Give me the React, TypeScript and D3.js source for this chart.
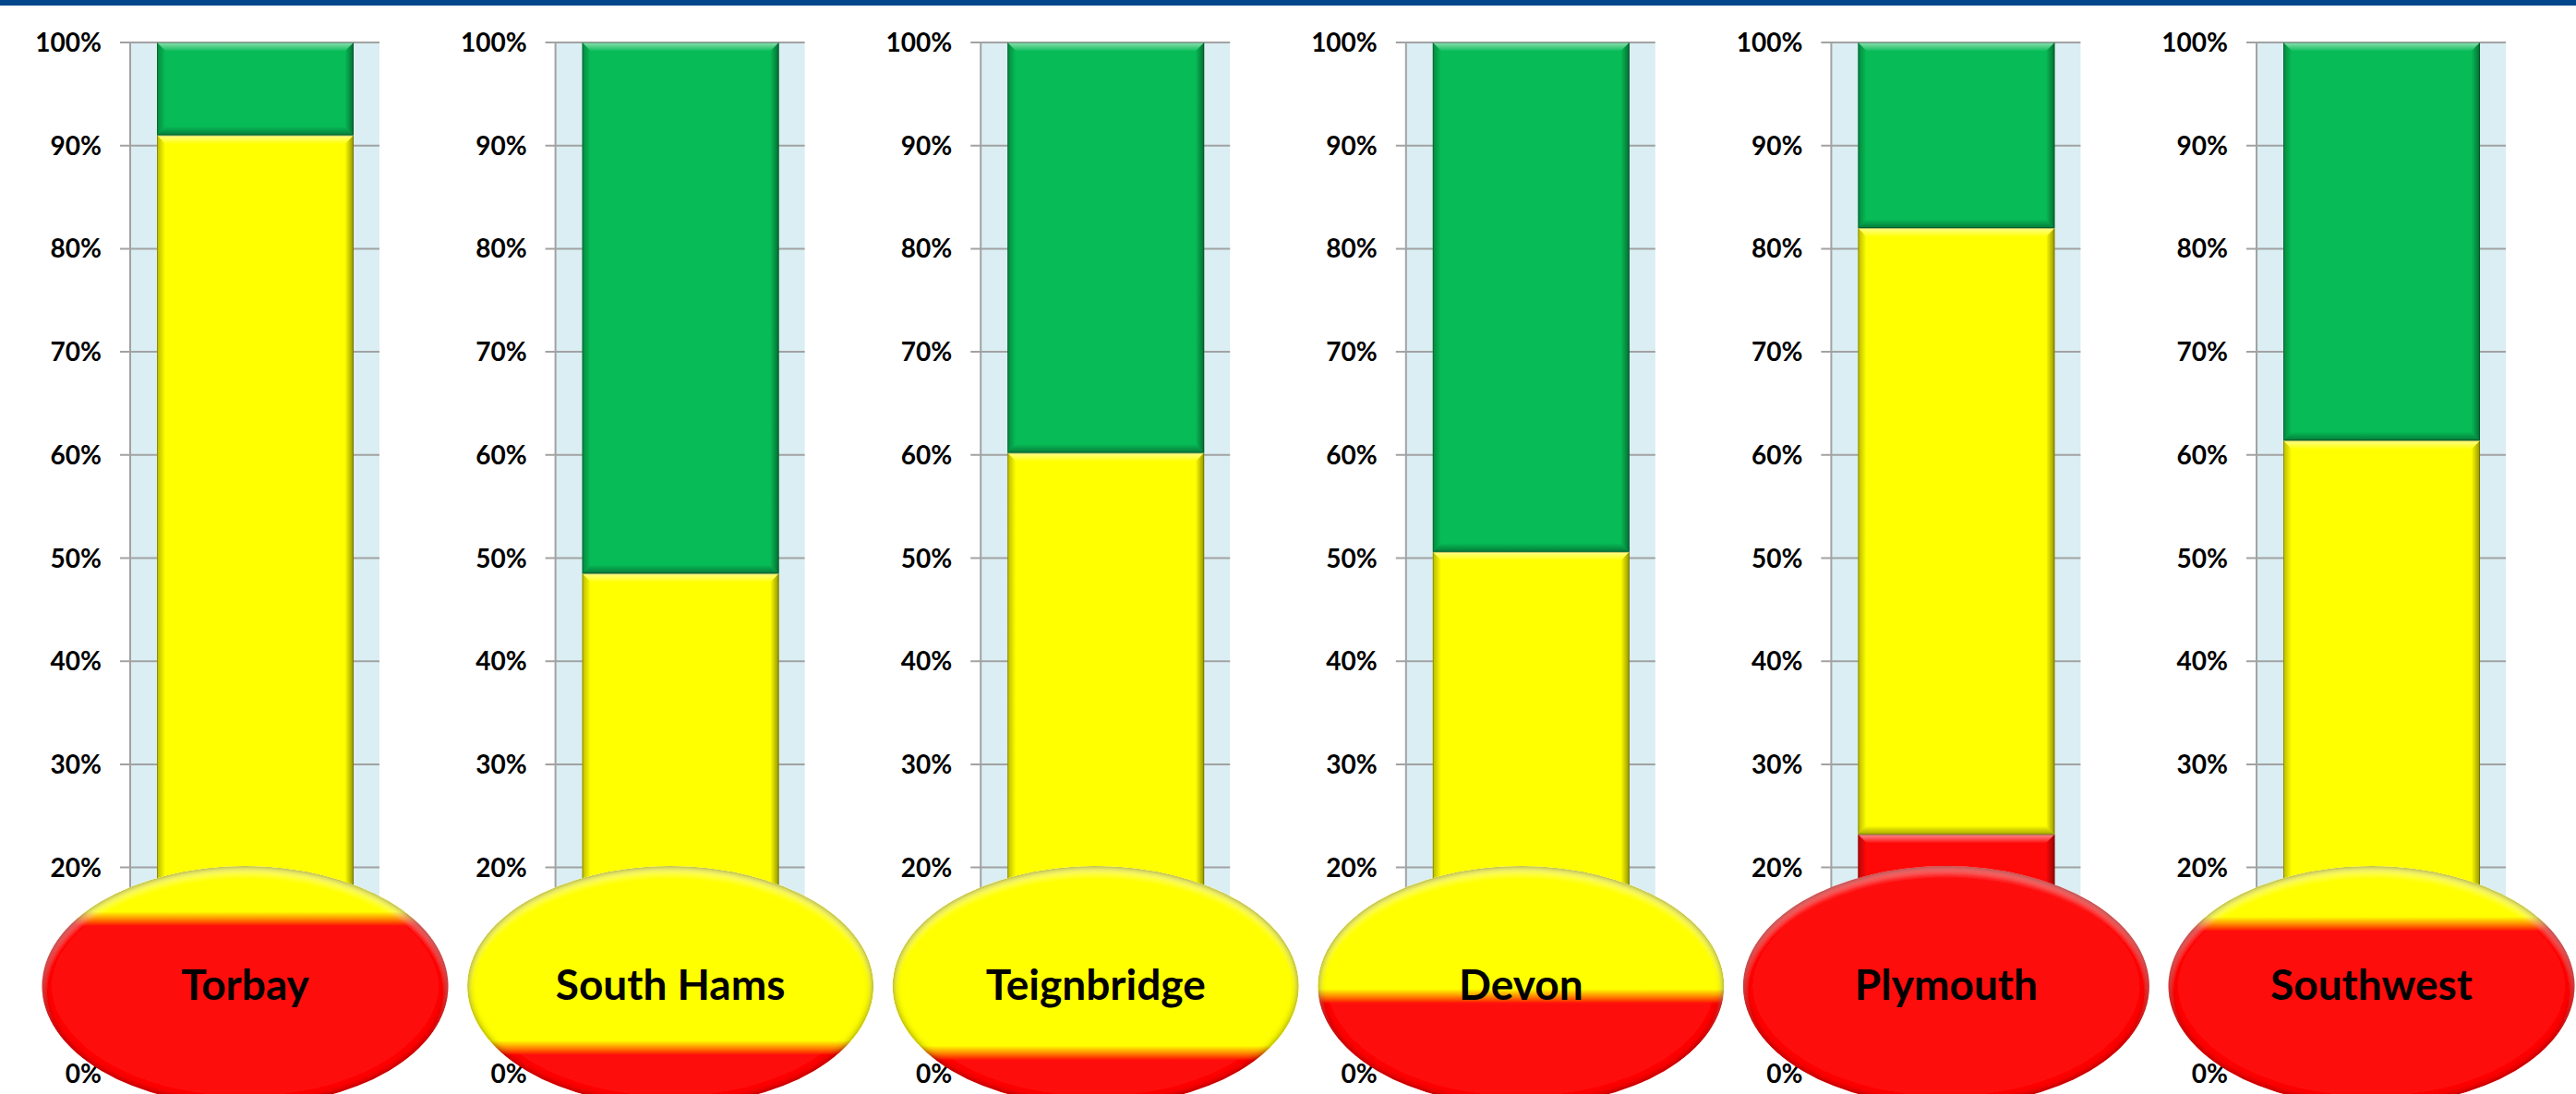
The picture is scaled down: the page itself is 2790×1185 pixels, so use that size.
import * as React from 'react';
import { useRef, useEffect } from 'react';
import * as d3 from 'd3';

// share of respondents per area (red / yellow / green), bottom to top
const areas = ['Torbay', 'South Hams', 'Teignbridge', 'Devon', 'Plymouth', 'Southwest'];
const redShare = [0.15, 0.025, 0.02, 0.075, 0.232, 0.145];
const yellowShare = [0.76, 0.46, 0.582, 0.431, 0.588, 0.469];
const greenShare = [0.09, 0.515, 0.398, 0.494, 0.18, 0.386];
const tickValues = [0, 0.1, 0.2, 0.3, 0.4, 0.5, 0.6, 0.7, 0.8, 0.9, 1];
const hiddenTicks = [0.1]; // sits under the bulb

const W = 2790;
const H = 1185;

const RED = '#fe0808';
const YELLOW = '#ffff00';
const GREEN = '#07bb56';

export default function App() {
  const svgRef = useRef<SVGSVGElement | null>(null);

  useEffect(() => {
    document.body.style.margin = '0';
    if (!svgRef.current) return;
    const svg = d3.select(svgRef.current);
    svg.selectAll('*').remove();

    const y = d3.scaleLinear().domain([0, 1]).range([1163, 46]);
    const panel = d3.scaleBand<string>().domain(areas).range([0, 2763.6]);

    // panel-local layout
    const tickStart = 130;
    const plotLeft = 141;
    const plotRight = 411;
    const barLeft = 170;
    const barRight = 383;
    const labelRight = 110;
    const bulbCx = 265.5;
    const bulbCy = 1068;
    const bulbRx = 220;
    const bulbRy = 130;

    const defs = svg.append('defs');

    const addGrad = (id: string, x2: number, y2: number, stops: [number, string, number][]) => {
      const gr = defs.append('linearGradient').attr('id', id)
        .attr('x1', 0).attr('y1', 0).attr('x2', x2).attr('y2', y2);
      stops.forEach(([o, c, a]) => gr.append('stop').attr('offset', o).attr('stop-color', c).attr('stop-opacity', a));
    };
    addGrad('bevTop', 0, 1, [[0, '#fff', 0.55], [1, '#fff', 0.05]]);
    addGrad('bevBot', 0, 1, [[0, '#000', 0.02], [1, '#000', 0.35]]);
    addGrad('bevLeft', 1, 0, [[0, '#000', 0.28], [1, '#000', 0]]);
    addGrad('bevRight', 1, 0, [[0, '#000', 0.02], [1, '#000', 0.42]]);

    // bulb bevel: dark rim + soft top highlight
    const f = defs.append('filter').attr('id', 'bulbBevel')
      .attr('x', '-5%').attr('y', '-5%').attr('width', '110%').attr('height', '110%');
    f.append('feGaussianBlur').attr('in', 'SourceAlpha').attr('stdDeviation', 4).attr('result', 'b1');
    f.append('feComposite').attr('in', 'SourceAlpha').attr('in2', 'b1').attr('operator', 'arithmetic')
      .attr('k2', 1).attr('k3', -1).attr('result', 'rim');
    f.append('feFlood').attr('flood-color', '#100000').attr('flood-opacity', 1).attr('result', 'dk');
    f.append('feComposite').attr('in', 'dk').attr('in2', 'rim').attr('operator', 'in').attr('result', 'rimDark');
    f.append('feGaussianBlur').attr('in', 'SourceAlpha').attr('stdDeviation', 3).attr('result', 'b2');
    f.append('feOffset').attr('in', 'b2').attr('dy', 7).attr('result', 'b2o');
    f.append('feComposite').attr('in', 'SourceAlpha').attr('in2', 'b2o').attr('operator', 'arithmetic')
      .attr('k2', 1).attr('k3', -1).attr('result', 'topEdge');
    f.append('feFlood').attr('flood-color', '#fff').attr('flood-opacity', 0.18).attr('result', 'wh');
    f.append('feComposite').attr('in', 'wh').attr('in2', 'topEdge').attr('operator', 'in').attr('result', 'hi');
    const m = f.append('feMerge');
    m.append('feMergeNode').attr('in', 'SourceGraphic');
    m.append('feMergeNode').attr('in', 'hi');
    m.append('feMergeNode').attr('in', 'rimDark');

    // header strip
    svg.append('rect').attr('x', 0).attr('y', 0).attr('width', W).attr('height', 6).attr('fill', '#03468c');

    const poly = (pts: [number, number][]) => (d3.line()(pts) || '') + 'Z';

    const bevelRect = (g: any, x0: number, y0: number, x1: number, y1: number, fill: string) => {
      g.append('rect').attr('x', x0).attr('y', y0).attr('width', x1 - x0).attr('height', y1 - y0).attr('fill', fill);
      const b = Math.min(9, (y1 - y0) / 2);
      g.append('path').attr('d', poly([[x0, y0], [x1, y0], [x1 - b, y0 + b], [x0 + b, y0 + b]])).attr('fill', 'url(#bevTop)');
      g.append('path').attr('d', poly([[x0, y1], [x1, y1], [x1 - b, y1 - b], [x0 + b, y1 - b]])).attr('fill', 'url(#bevBot)');
      g.append('path').attr('d', poly([[x0, y0], [x0 + b, y0 + b], [x0 + b, y1 - b], [x0, y1]])).attr('fill', 'url(#bevLeft)');
      g.append('path').attr('d', poly([[x1, y0], [x1 - b, y0 + b], [x1 - b, y1 - b], [x1, y1]])).attr('fill', 'url(#bevRight)');
      g.append('rect').attr('x', x0 + 0.5).attr('y', y0 + 0.5).attr('width', x1 - x0 - 1).attr('height', y1 - y0 - 1)
        .attr('fill', 'none').attr('stroke', 'rgba(0,0,0,0.25)').attr('stroke-width', 1);
    };

    areas.forEach((area, i) => {
      const g = svg.append('g').attr('transform', `translate(${panel(area)}, 0)`);

      g.append('rect').attr('x', plotLeft).attr('y', y(1)).attr('width', plotRight - plotLeft)
        .attr('height', y(0) - y(1)).attr('fill', '#daeef3');

      tickValues.forEach(t => {
        g.append('line').attr('x1', tickStart).attr('x2', plotRight).attr('y1', y(t)).attr('y2', y(t))
          .attr('stroke', '#a2a2a2').attr('stroke-width', 2);
        if (!hiddenTicks.includes(t)) {
          g.append('text').attr('x', labelRight).attr('y', y(t)).attr('dy', '0.36em')
            .attr('text-anchor', 'end').attr('font-family', 'Lato').attr('font-weight', 700)
            .attr('font-size', 28).attr('fill', '#000').text(d3.format('.0%')(t));
        }
      });
      g.append('line').attr('x1', plotLeft).attr('x2', plotLeft).attr('y1', y(1)).attr('y2', y(0))
        .attr('stroke', '#a2a2a2').attr('stroke-width', 2);

      const r = redShare[i];
      const yl = yellowShare[i];
      const gr = greenShare[i];
      bevelRect(g, barLeft, y(r), barRight, y(0), RED);
      bevelRect(g, barLeft, y(r + yl), barRight, y(r), YELLOW);
      bevelRect(g, barLeft, y(r + yl + gr), barRight, y(r + yl), GREEN);
    });

    // bulbs on top
    areas.forEach((area, i) => {
      const g = svg.append('g').attr('transform', `translate(${panel(area)}, 0)`);
      const top = bulbCy - bulbRy;
      const bottom = bulbCy + bulbRy;
      const boundary = y(redShare[i]);
      const blur = 8;
      const off = (v: number) => Math.max(0, Math.min(1, (v - top) / (bottom - top)));
      const allRed = boundary < top;
      const grad = defs.append('linearGradient').attr('id', `bulb-${i}`)
        .attr('gradientUnits', 'userSpaceOnUse').attr('x1', 0).attr('x2', 0).attr('y1', top).attr('y2', bottom);
      grad.append('stop').attr('offset', 0).attr('stop-color', allRed ? RED : YELLOW);
      grad.append('stop').attr('offset', off(boundary - blur)).attr('stop-color', allRed ? RED : YELLOW);
      grad.append('stop').attr('offset', off(boundary)).attr('stop-color', allRed ? RED : '#ff8a00');
      grad.append('stop').attr('offset', off(boundary + blur)).attr('stop-color', RED);
      grad.append('stop').attr('offset', 1).attr('stop-color', RED);

      g.append('ellipse').attr('cx', bulbCx).attr('cy', bulbCy).attr('rx', bulbRx).attr('ry', bulbRy)
        .attr('fill', `url(#bulb-${i})`).attr('filter', 'url(#bulbBevel)');

      g.append('text').attr('x', bulbCx).attr('y', bulbCy - 1).attr('dy', '0.35em')
        .attr('text-anchor', 'middle').attr('font-family', 'Lato').attr('font-weight', 700)
        .attr('font-size', 46).attr('fill', '#000').text(area);
    });
  }, []);

  return (
    <svg
      ref={svgRef}
      width={W}
      height={H}
      style={{ position: 'absolute', left: 0, top: 0, display: 'block', background: '#fff' }}
    />
  );
}
